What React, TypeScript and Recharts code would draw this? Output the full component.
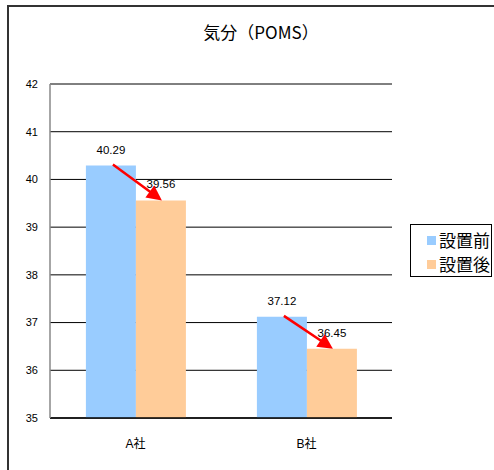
import React from 'react';
import { BarChart, Bar, XAxis, YAxis, CartesianGrid, Legend, LabelList } from 'recharts';

const categories = ['A社', 'B社'];
const beforeValues = [40.29, 37.12];
const afterValues = [39.56, 36.45];
const yTicks = [35, 36, 37, 38, 39, 40, 41, 42];
const seriesNames = ['設置前', '設置後'];
const boundaryTicks = [0, 1, 2];

const data = categories.map((c, i) => ({ name: c, before: beforeValues[i], after: afterValues[i] }));

const FONT = '"Liberation Sans", Arial, "Noto Sans CJK JP", sans-serif';
const CJK = '"Noto Sans CJK JP", "Liberation Sans", sans-serif';
const BLUE = '#99ccff';
const ORANGE = '#ffcc99';
const Y_MIN = 35;

const ArrowLabel = (props: any) => {
  const { x, y, width, height, index } = props;
  if (x == null || y == null) return null;
  const after = afterValues[index];
  const before = beforeValues[index];
  const bottom = y + height;
  const blueTop = bottom - ((before - Y_MIN) / (after - Y_MIN)) * height;
  const sx = x - width / 2 + 2;
  const sy = blueTop - 1;
  const tx = x + width / 2 + 1;
  const ty = y;
  const dx = tx - sx;
  const dy = ty - sy;
  const len = Math.sqrt(dx * dx + dy * dy);
  const ux = dx / len;
  const uy = dy / len;
  const headLen = 15;
  const headW = 7.5;
  const bx = tx - ux * headLen;
  const by = ty - uy * headLen;
  const p1 = `${bx - uy * headW},${by + ux * headW}`;
  const p2 = `${bx + uy * headW},${by - ux * headW}`;
  return (
    <g>
      <line x1={sx} y1={sy} x2={bx + ux * 2} y2={by + uy * 2} stroke="#ff0000" strokeWidth={2.5} />
      <polygon points={`${tx},${ty} ${p1} ${p2}`} fill="#ff0000" />
    </g>
  );
};

const LegendContent = () => (
  <div
    style={{
      border: '1px solid #000',
      background: '#fff',
      boxSizing: 'border-box',
      width: 82,
      height: 53,
      paddingTop: 3,
      paddingLeft: 16,
      fontFamily: CJK,
      fontSize: 17,
      lineHeight: '24px',
      color: '#000',
    }}
  >
    {seriesNames.map((n, i) => (
      <div key={n} style={{ display: 'flex', alignItems: 'center', whiteSpace: 'nowrap' }}>
        <span style={{ display: 'inline-block', width: 9, height: 9, background: i === 0 ? BLUE : ORANGE, marginRight: 3 }} />
        <span>{n}</span>
      </div>
    ))}
  </div>
);

export default function App() {
  return (
    <div style={{ position: 'absolute', left: 0, top: 0, width: 494, height: 470, background: '#fff', overflow: 'hidden' }}>
      <div style={{ position: 'absolute', left: 7, top: 5, width: 487, height: 2, background: '#333' }} />
      <div style={{ position: 'absolute', left: 7, top: 5, width: 2, height: 465, background: '#333' }} />
      <div
        style={{
          position: 'absolute',
          left: 14,
          top: 21,
          width: 494,
          textAlign: 'center',
          fontFamily: CJK,
          fontSize: 17,
          lineHeight: '22px',
          color: '#000',
          whiteSpace: 'nowrap',
        }}
      >
        気分（POMS）
      </div>
      <div style={{ position: 'absolute', left: 0, top: 0 }}>
        <BarChart
          width={494}
          height={470}
          data={data}
          margin={{ top: 84, right: 102, bottom: 22, left: 0 }}
          barCategoryGap="21%"
          barGap={0}
        >
          <CartesianGrid vertical={false} stroke="#000" strokeWidth={1} />
          <XAxis
            xAxisId="bounds"
            type="number"
            domain={[0, 2]}
            ticks={boundaryTicks}
            tick={false}
            axisLine={false}
            tickSize={5}
            mirror
            height={0}
            stroke="#000"
            tickLine={{ stroke: '#000', strokeWidth: 1.5 }}
          />
          <XAxis
            dataKey="name"
            height={30}
            tickLine={false}
            tickSize={6}
            tickMargin={15}
            axisLine={{ stroke: '#000', strokeWidth: 1.5 }}
            tick={{ fontSize: 12, fill: '#000', fontFamily: FONT }}
          />
          <YAxis
            width={50}
            domain={[35, 42]}
            ticks={yTicks}
            interval={0}
            tickLine={false}
            tickMargin={6}
            axisLine={{ stroke: '#888', strokeWidth: 1.5 }}
            tick={{ fontSize: 11, fill: '#000', fontFamily: FONT }}
            allowDataOverflow
          />
          <Legend
            layout="vertical"
            align="center"
            verticalAlign="middle"
            content={<LegendContent />}
            wrapperStyle={{ left: 410, top: 224, width: 82, height: 53 }}
          />
          <Bar dataKey="before" name={seriesNames[0]} fill={BLUE} isAnimationActive={false}>
            <LabelList dataKey="before" position="top" offset={12} style={{ fontSize: 11.5, fill: '#000', fontFamily: FONT }} formatter={(v: any) => Number(v).toFixed(2)} />
          </Bar>
          <Bar dataKey="after" name={seriesNames[1]} fill={ORANGE} isAnimationActive={false}>
            <LabelList dataKey="after" position="top" offset={12} style={{ fontSize: 11.5, fill: '#000', fontFamily: FONT }} formatter={(v: any) => Number(v).toFixed(2)} />
            <LabelList dataKey="after" content={<ArrowLabel />} />
          </Bar>
        </BarChart>
      </div>
    </div>
  );
}
